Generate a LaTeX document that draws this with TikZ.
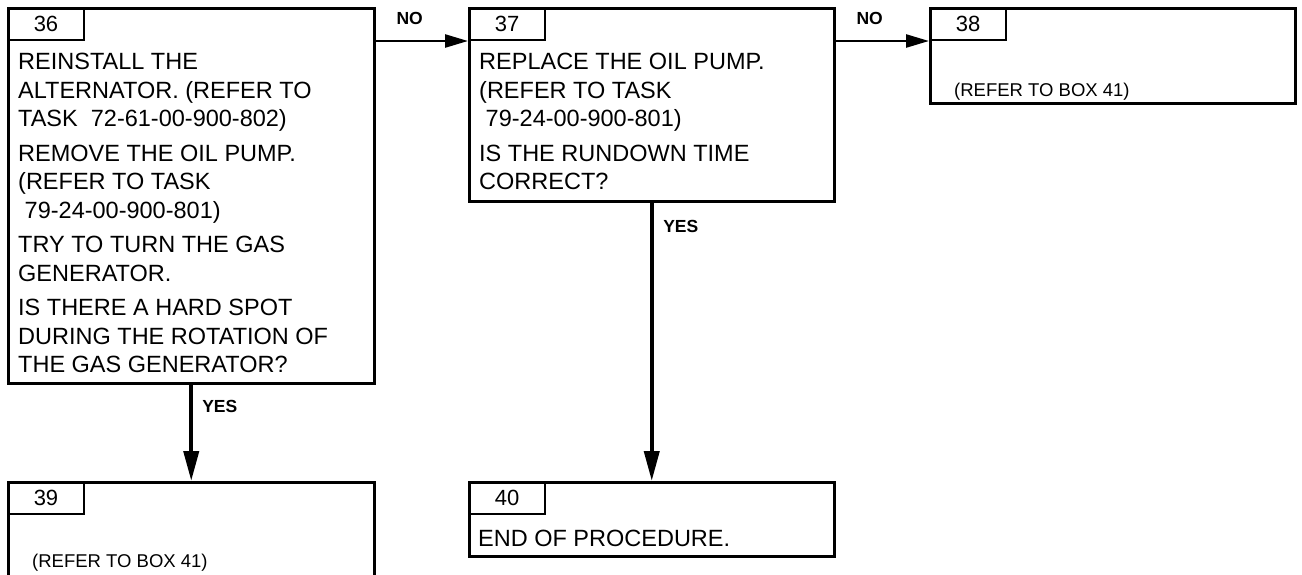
\documentclass[tikz,border=0pt]{standalone}
\usepackage{fontspec}
\setmainfont{Liberation Sans}
\usetikzlibrary{arrows.meta, positioning}

\begin{document}
\begin{tikzpicture}[x=1pt, y=-1pt,
  box/.style={draw, line width=2.5pt, minimum width=365pt, inner sep=0pt, anchor=north west},
  numtab/.style={draw, line width=2pt, minimum width=76pt, minimum height=32pt,
                 inner sep=0pt, anchor=north west, font=\fontsize{22}{22}\selectfont},
  body/.style={inner sep=0pt, align=left, font=\fontsize{23.5}{28.5}\selectfont},
  note/.style={anchor=base west, inner sep=0pt, font=\fontsize{18.5}{20}\selectfont},
  lbl/.style={inner sep=0pt, font=\fontsize{17.5}{18}\selectfont\bfseries},
  arr/.style={-{Triangle[length=23pt, width=13pt]}, line width=2.5pt},
  down/.style={-{Triangle[length=30pt, width=15pt]}, line width=4pt}
]
\useasboundingbox (0,0) rectangle (1302,574);

% Box 36 (left top)
\node[box, minimum width=366pt, minimum height=375pt] (b36) at (7,7) {};
\node[numtab] (t36) at (b36.north west) {36};
\node[body, below right=12.2pt and 11pt of t36.south west] (x36) {REINSTALL THE\\
  ALTERNATOR. (REFER TO\\TASK\ \ 72-61-00-900-802)\\[6pt]
  REMOVE THE OIL PUMP.\\(REFER TO TASK\\\ 79-24-00-900-801)\\[6pt]
  TRY TO TURN THE GAS\\GENERATOR.\\[6pt]
  IS THERE A HARD SPOT\\DURING THE ROTATION OF\\THE GAS GENERATOR?};

% Box 37 (middle top)
\node[box, minimum height=193pt] (b37) at (468,7) {};
\node[numtab] (t37) at (b37.north west) {37};
\node[body, below right=12.2pt and 11pt of t37.south west] (x37) {REPLACE THE OIL PUMP.\\
  (REFER TO TASK\\\ 79-24-00-900-801)\\[6pt]
  IS THE RUNDOWN TIME\\CORRECT?};

% Box 38 (right top)
\node[box, minimum height=95pt] (b38) at (929,7) {};
\node[numtab] (t38) at (b38.north west) {38};
\node[note] (n38) at (954,96) {(REFER TO BOX 41)};

% Box 39 (left bottom)
\node[box, minimum width=366pt, minimum height=95pt] (b39) at (7,481) {};
\node[numtab] (t39) at (b39.north west) {39};
\node[note] (n39) at (32,567) {(REFER TO BOX 41)};

% Box 40 (middle bottom)
\node[box, minimum height=74pt] (b40) at (468,481) {};
\node[numtab] (t40) at (b40.north west) {40};
\node[body, below right=15.2pt and 10pt of t40.south west] (x40) {END OF PROCEDURE.};

% Arrows
\draw[arr] (b36.east |- t36.south) -- (t37.south west)
  node[lbl, pos=0.37, above=15.5pt] {NO};
\draw[arr] (b37.east |- t37.south) -- (t38.south west)
  node[lbl, pos=0.365, above=15.5pt] {NO};
\draw[down] (b36.south) -- (b39.north)
  node[lbl, pos=0.232, right=9pt] {YES};
\draw[down] (b37.south) -- (b40.north)
  node[lbl, pos=0.085, right=9.5pt] {YES};

\end{tikzpicture}
\end{document}
